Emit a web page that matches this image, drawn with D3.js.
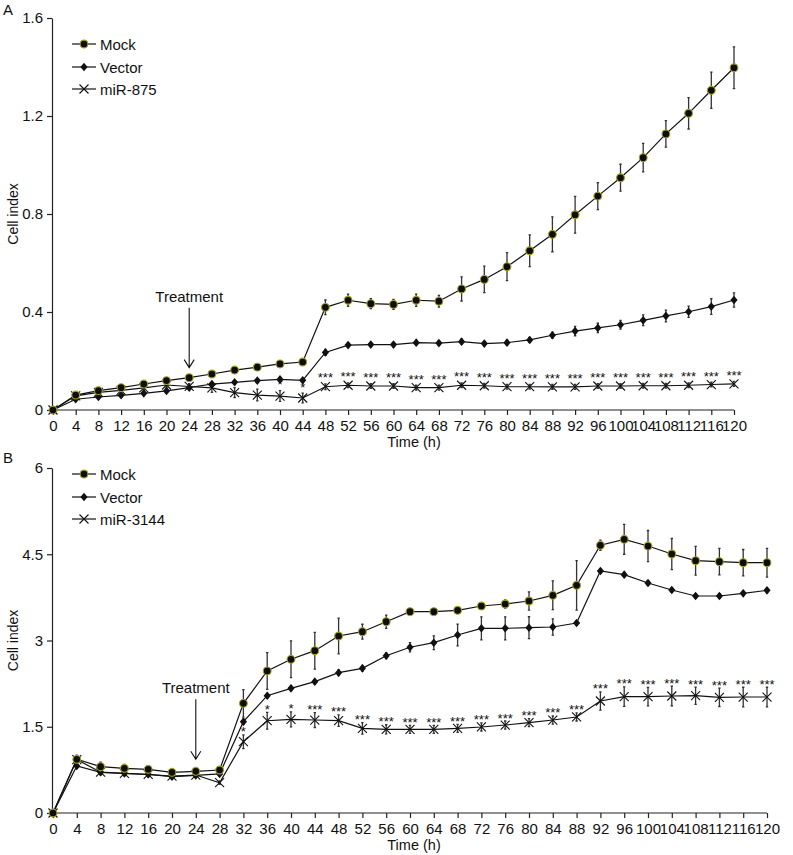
<!DOCTYPE html>
<html><head><meta charset="utf-8">
<script src="https://cdn.jsdelivr.net/npm/d3@7"></script>
<style>
body{margin:0;background:#fff}
text{font-family:Arial,"Liberation Sans",sans-serif;fill:#111}
</style>
</head><body>
<svg id="c" width="793" height="855"></svg>
<script>
// ---------- data ----------
const times = [0,4,8,12,16,20,24,28,32,36,40,44,48,52,56,60,64,68,72,76,80,84,88,92,96,100,104,108,112,116,120];

// Panel A
const namesA = ["Mock","Vector","miR-875"];
const mockA    = [0,0.061,0.079,0.091,0.106,0.120,0.132,0.147,0.163,0.175,0.188,0.196,0.419,0.448,0.434,0.431,0.448,0.444,0.494,0.533,0.585,0.650,0.717,0.797,0.873,0.948,1.030,1.127,1.211,1.305,1.397];
const mockAErr = [0,0.010,0.008,0.008,0.008,0.010,0.010,0.008,0.008,0.008,0.008,0.010,0.030,0.025,0.020,0.020,0.025,0.024,0.049,0.054,0.057,0.065,0.071,0.075,0.055,0.055,0.058,0.054,0.064,0.074,0.085];
const vectorA    = [0,0.044,0.053,0.060,0.068,0.078,0.091,0.106,0.113,0.120,0.125,0.121,0.235,0.265,0.267,0.267,0.275,0.273,0.279,0.271,0.275,0.286,0.305,0.322,0.335,0.348,0.366,0.384,0.401,0.422,0.449];
const vectorAErr = [0,0.006,0.006,0.006,0.006,0.006,0.006,0.006,0.006,0.006,0.008,0.006,0.012,0.008,0.008,0.008,0.009,0.008,0.010,0.009,0.010,0.010,0.013,0.019,0.019,0.018,0.022,0.024,0.023,0.032,0.029];
const mirA    = [0,0.058,0.072,0.080,0.090,0.102,0.096,0.090,0.071,0.061,0.057,0.049,0.095,0.101,0.098,0.098,0.091,0.091,0.101,0.099,0.095,0.095,0.094,0.094,0.098,0.098,0.099,0.099,0.101,0.104,0.107];
const mirAErr = [0,0.010,0.008,0.008,0.008,0.012,0.012,0.018,0.020,0.024,0.022,0.020,0.012,0.010,0.010,0.010,0.010,0.010,0.010,0.010,0.010,0.010,0.010,0.010,0.010,0.010,0.010,0.010,0.010,0.010,0.010];
const sigA = ["","","","","","","","","","*","*","*","***","***","***","***","***","***","***","***","***","***","***","***","***","***","***","***","***","***","***"];
const yTicksA = [0,0.4,0.8,1.2,1.6];

// Panel B
const namesB = ["Mock","Vector","miR-3144"];
const mockB    = [0,0.934,0.806,0.777,0.760,0.708,0.725,0.748,1.907,2.470,2.673,2.823,3.078,3.153,3.327,3.501,3.501,3.525,3.600,3.635,3.687,3.786,3.960,4.656,4.760,4.643,4.504,4.388,4.371,4.353,4.353];
const mockBErr = [0,0.07,0.08,0.07,0.06,0.05,0.06,0.04,0.24,0.32,0.32,0.32,0.31,0.13,0.116,0.05,0.05,0.05,0.05,0.07,0.16,0.25,0.43,0.09,0.26,0.27,0.27,0.25,0.23,0.23,0.25];
const vectorB    = [0,0.817,0.708,0.690,0.673,0.632,0.655,0.680,1.588,2.040,2.168,2.284,2.440,2.516,2.736,2.882,2.962,3.096,3.212,3.212,3.223,3.235,3.304,4.209,4.145,4.000,3.878,3.774,3.774,3.820,3.872];
const vectorBErr = [0,0.04,0.04,0.04,0.04,0.04,0.04,0.03,0.05,0.04,0.04,0.04,0.05,0.05,0.05,0.08,0.12,0.19,0.20,0.20,0.19,0.14,0.04,0.04,0.04,0.04,0.04,0.04,0.04,0.04,0.04];
const mirB    = [0,0.930,0.710,0.690,0.670,0.640,0.660,0.527,1.240,1.605,1.629,1.617,1.605,1.473,1.455,1.455,1.455,1.473,1.496,1.530,1.571,1.617,1.670,1.948,2.023,2.023,2.035,2.040,2.012,2.017,2.017];
const mirBErr = [0,0.06,0.04,0.04,0.04,0.04,0.04,0.03,0.12,0.145,0.13,0.13,0.10,0.10,0.08,0.07,0.07,0.07,0.07,0.07,0.07,0.07,0.07,0.16,0.17,0.16,0.17,0.15,0.16,0.17,0.17];
const sigB = ["","","","","","","","","*","*","*","***","***","***","***","***","***","***","***","***","***","***","***","***","***","***","***","***","***","***","***"];
const yTicksB = [0,1.5,3,4.5,6];

const treatmentTime = 24;

// ---------- drawing ----------
const svg = d3.select("#c");

const markerPaths = {
  circle: null,
  diamond: "M0,-4.3L3.6,0L0,4.3L-3.6,0Z",
  cross: "M-4.5,-4.5L4.5,4.5M-4.5,4.5L4.5,-4.5"
};

function drawMarker(g, type, x, y) {
  if (type === "circle") {
    g.append("circle").attr("cx", x).attr("cy", y).attr("r", 3.9)
      .attr("fill", "#0d0d0d").attr("stroke", "#a4a21c").attr("stroke-width", 1.1);
  } else if (type === "diamond") {
    g.append("path").attr("transform", `translate(${x},${y})`).attr("d", markerPaths.diamond)
      .attr("fill", "#111");
  } else {
    g.append("path").attr("transform", `translate(${x},${y})`).attr("d", markerPaths.cross)
      .attr("fill", "none").attr("stroke", "#111").attr("stroke-width", 1.1);
  }
}

function drawPanel(cfg) {
  const x = d3.scaleLinear().domain([0, 120]).range([cfg.x0, cfg.x1]);
  const y = d3.scaleLinear().domain([0, cfg.yMax]).range([cfg.y0, cfg.y1]);
  const g = svg.append("g");

  // axes
  const yAxis = g.append("g").attr("transform", `translate(${cfg.x0 - 1},0)`)
    .call(d3.axisLeft(y).tickValues(cfg.yTicks).tickFormat(d3.format("~g")).tickSize(5).tickSizeOuter(0).tickPadding(4));
  const xAxis = g.append("g").attr("transform", `translate(0,${cfg.y0})`)
    .call(d3.axisBottom(x).tickValues(times).tickFormat(d3.format("d")).tickSize(5).tickSizeOuter(0).tickPadding(5));
  [yAxis, xAxis].forEach(a => {
    a.selectAll("path,line").attr("stroke", "#222").attr("stroke-width", 1.2);
    a.selectAll("text").attr("font-size", 15).attr("fill", "#111")
      .attr("font-family", "Arial, 'Liberation Sans', sans-serif");
  });
  xAxis.select(".domain").attr("d", `M${cfg.x0 - 1},0H${cfg.x1}`);

  // axis titles
  g.append("text").attr("transform", `translate(18,${(cfg.y0 + cfg.y1) / 2}) rotate(-90)`)
    .attr("text-anchor", "middle").attr("font-size", 14).text("Cell index");
  g.append("text").attr("x", 414).attr("y", cfg.y0 + 37)
    .attr("text-anchor", "middle").attr("font-size", 14.5).text("Time (h)");
  g.append("text").attr("x", 3).attr("y", cfg.labelY).attr("font-size", 15).text(cfg.label);

  const series = cfg.series;
  const line = d3.line().x((d, i) => x(times[i])).y(d => y(d));

  // lines
  series.forEach(s => {
    g.append("path").attr("d", line(s.values)).attr("fill", "none")
      .attr("stroke", "#111").attr("stroke-width", 1.2);
  });
  // error bars and markers, draw last series first so Mock is on top
  [...series].reverse().forEach(s => {
    s.values.forEach((v, i) => {
      const e = s.err[i];
      if (e > 0) {
        const xx = x(times[i]);
        g.append("path")
          .attr("d", `M${xx},${y(v - e)}V${y(v + e)}M${xx - 1.2},${y(v - e)}H${xx + 1.2}M${xx - 1.2},${y(v + e)}H${xx + 1.2}`)
          .attr("stroke", "#333").attr("stroke-width", 1.3).attr("fill", "none");
      }
    });
    s.values.forEach((v, i) => drawMarker(g, s.marker, x(times[i]), y(v)));
  });

  // significance stars (above the treated series)
  const tr = series[2];
  cfg.sig.forEach((s, i) => {
    if (!s) return;
    g.append("text").attr("x", x(times[i])).attr("y", y(tr.values[i] + tr.err[i]) + cfg.starOff)
      .attr("text-anchor", "middle").attr("font-size", 13).attr("fill", "#222").text(s);
  });

  // treatment arrow
  const ti = times.indexOf(treatmentTime);
  const ax = x(treatmentTime);
  const tip = y(series[0].values[ti]) - cfg.arrowGap;
  const start = tip - 60;
  g.append("path").attr("d", `M${ax},${start}V${tip}M${ax - 5},${tip - 8}L${ax},${tip}L${ax + 5},${tip - 8}`)
    .attr("stroke", "#111").attr("stroke-width", 1.1).attr("fill", "none");
  g.append("text").attr("x", ax).attr("y", start - 6).attr("text-anchor", "middle")
    .attr("font-size", 15).text("Treatment");

  // legend
  cfg.names.forEach((n, i) => {
    const ly = cfg.legendY[i];
    g.append("line").attr("x1", 72).attr("x2", 96).attr("y1", ly).attr("y2", ly)
      .attr("stroke", "#111").attr("stroke-width", 1.2);
    drawMarker(g, series[i].marker, 84, ly);
    g.append("text").attr("x", 100).attr("y", ly + 5.5).attr("font-size", 15).text(n);
  });
}

drawPanel({
  label: "A", labelY: 15,
  x0: 53, x1: 734, y0: 410, y1: 18, yMax: 1.6, yTicks: yTicksA,
  names: namesA, legendY: [44, 67, 89],
  sig: sigA, starOff: -1.5, arrowGap: 10,
  series: [
    {values: mockA, err: mockAErr, marker: "circle"},
    {values: vectorA, err: vectorAErr, marker: "diamond"},
    {values: mirA, err: mirAErr, marker: "cross"}
  ]
});

drawPanel({
  label: "B", labelY: 463,
  x0: 53, x1: 767, y0: 813, y1: 468, yMax: 6, yTicks: yTicksB,
  names: namesB, legendY: [474, 497, 519],
  sig: sigB, starOff: 1.5, arrowGap: 12,
  series: [
    {values: mockB, err: mockBErr, marker: "circle"},
    {values: vectorB, err: vectorBErr, marker: "diamond"},
    {values: mirB, err: mirBErr, marker: "cross"}
  ]
});
</script>
</body></html>
